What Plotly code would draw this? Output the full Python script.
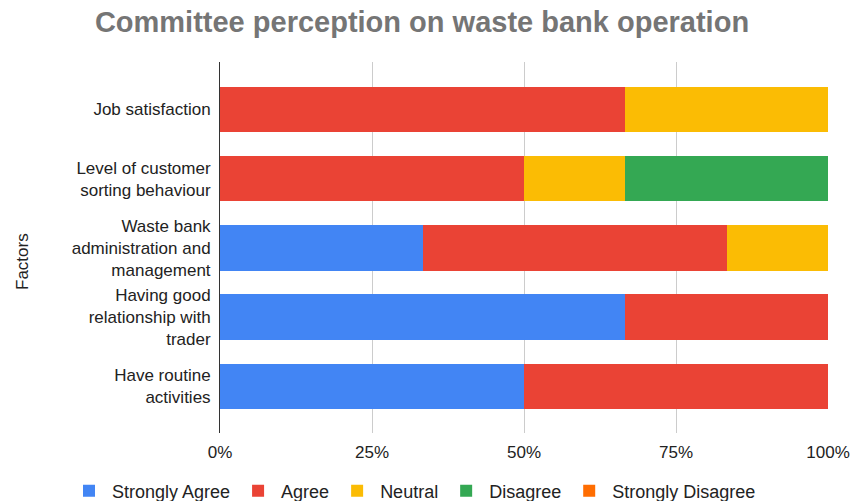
import plotly.graph_objects as go

# Factors, listed top to bottom
factors = [
    "Job satisfaction",
    "Level of customer<br>sorting behaviour",
    "Waste bank<br>administration and<br>management",
    "Having good<br>relationship with<br>trader",
    "Have routine<br>activities",
]

# Number of committee responses per factor and answer
strongly_agree = [0, 0, 2, 4, 3]
agree = [4, 3, 3, 2, 3]
neutral = [2, 1, 1, 0, 0]
disagree = [0, 2, 0, 0, 0]
strongly_disagree = [0, 0, 0, 0, 0]

series_names = ["Strongly Agree", "Agree", "Neutral", "Disagree", "Strongly Disagree"]
series_values = [strongly_agree, agree, neutral, disagree, strongly_disagree]
series_colors = ["#4285F4", "#EA4335", "#FBBC04", "#34A853", "#FF6D01"]

x_ticks = [0, 25, 50, 75, 100]
x_tick_labels = ["0%", "25%", "50%", "75%", "100%"]

FONT = "Liberation Sans, Arial, sans-serif"

# plot area in pixels
L, R, T, B = 220, 24, 62, 68
PW, PH = 852 - L - R, 501 - T - B

fig = go.Figure()
for name, vals, color in zip(series_names, series_values, series_colors):
    fig.add_trace(go.Bar(
        y=factors,
        x=vals,
        name=name,
        orientation="h",
        marker=dict(color=color, line=dict(width=0)),
        width=0.658,
    ))

fig.update_layout(
    barmode="stack",
    barnorm="percent",
    width=852,
    height=501,
    margin=dict(l=L, r=R, t=T, b=B, autoexpand=False),
    paper_bgcolor="white",
    plot_bgcolor="white",
    font=dict(family=FONT, size=17, color="#222222"),
    title=dict(
        text="<b>Committee perception on waste bank operation</b>",
        font=dict(family=FONT, size=29, color="#757575"),
        x=422 / 852,
        xanchor="center",
        y=1 - 32 / 501,
        yanchor="bottom",
        yref="container",
        pad=dict(b=0),
    ),
    legend=dict(
        orientation="h",
        xref="paper",
        yref="paper",
        x=(66 - L) / PW,
        xanchor="left",
        y=-(491 - (T + PH)) / PH,
        yanchor="middle",
        font=dict(family=FONT, size=18, color="#222222"),
        itemwidth=36,
        traceorder="normal",
        itemclick=False,
    ),
    xaxis=dict(
        range=[0, 100],
        tickvals=x_ticks,
        ticktext=x_tick_labels,
        showgrid=True,
        gridcolor="#cccccc",
        gridwidth=1,
        zeroline=False,
        showline=False,
        ticks="outside",
        ticklen=4,
        tickcolor="rgba(0,0,0,0)",
        tickfont=dict(family=FONT, size=17, color="#222222"),
        fixedrange=True,
    ),
    yaxis=dict(
        categoryorder="array",
        categoryarray=factors,
        range=[4.675, -0.686],
        showline=True,
        linecolor="#333333",
        linewidth=1,
        showgrid=False,
        ticks="outside",
        ticklen=5,
        tickcolor="rgba(0,0,0,0)",
        tickfont=dict(family=FONT, size=17, color="#222222"),
        fixedrange=True,
    ),
    annotations=[
        dict(
            text="Factors",
            textangle=-90,
            xref="paper",
            yref="paper",
            x=(22 - L) / PW,
            y=(T + PH - 262) / PH,
            xanchor="center",
            yanchor="middle",
            showarrow=False,
            font=dict(family=FONT, size=17, color="#222222"),
        )
    ],
)

fig.write_html("out.html")
